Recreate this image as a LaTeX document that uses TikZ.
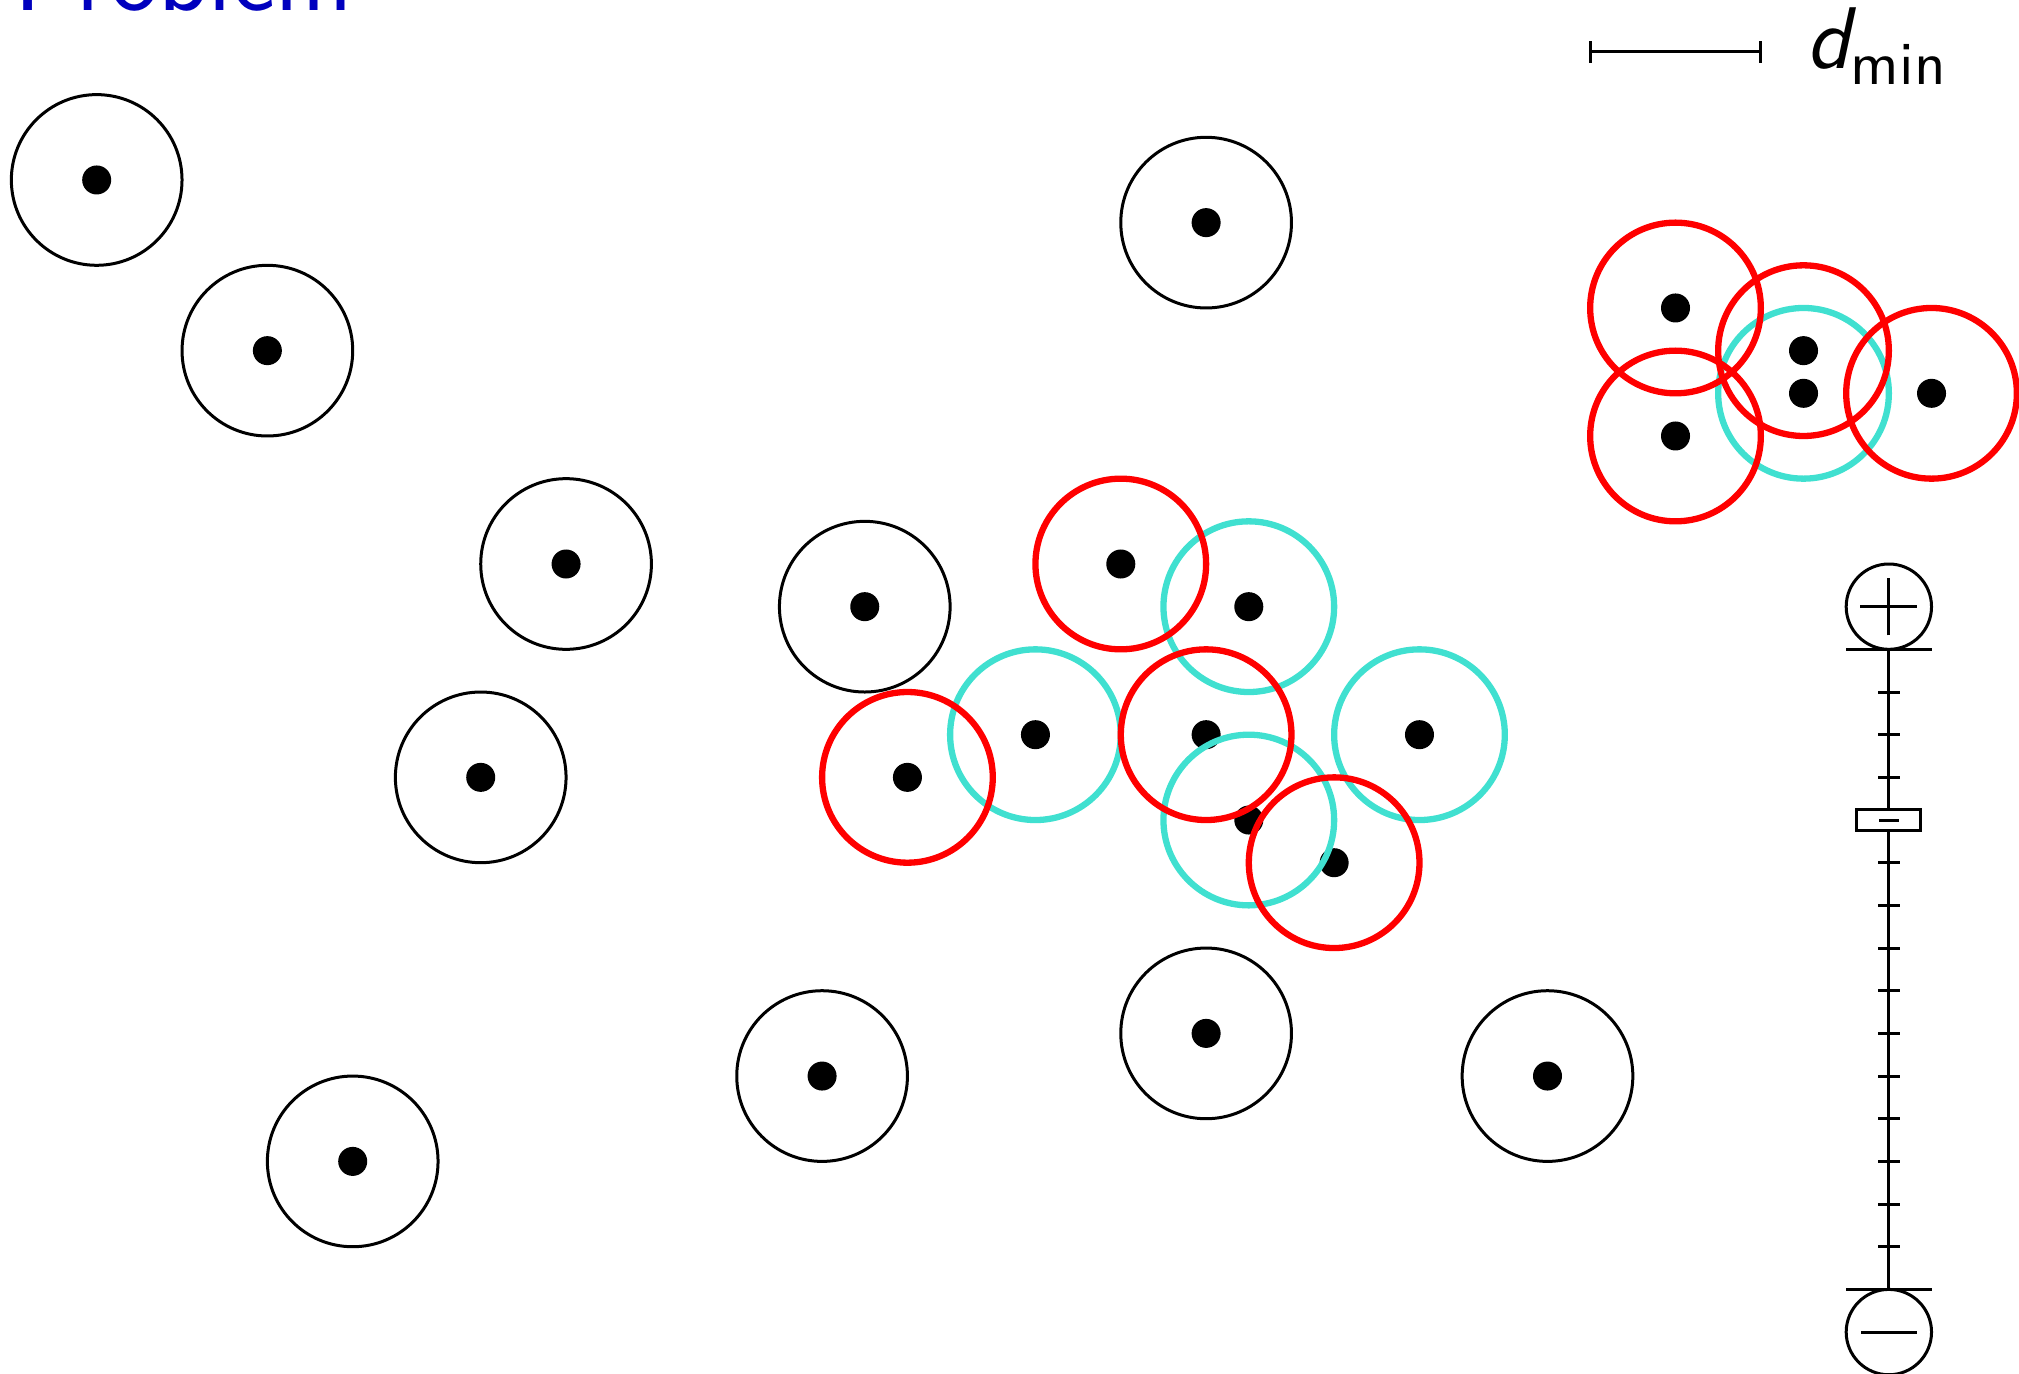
\documentclass[tikz,border=0pt]{standalone}
\definecolor{titleblue}{RGB}{0,0,190}
\definecolor{turq}{RGB}{64,224,208}
\begin{document}
\begin{tikzpicture}[x=0.25cm,y=-0.25cm,
  blackring/.style={draw=black,line width=0.5pt},
  redring/.style={draw=red,line width=1.05pt},
  cyanring/.style={draw=turq,line width=1.05pt},
  dotfill/.style={fill=black},
  sliderline/.style={draw=black,line width=0.5pt}]
\useasboundingbox (-2.266,-4.218) rectangle (45.05,27.96);
% title
\node[anchor=base west,inner sep=0pt,text=titleblue,font=\fontsize{17.28}{20}\selectfont\sffamily] (title) at (-1.95,-3.98) {Problem};
% points
\foreach \n/\x/\y in {b1/0/0,b2/4/4,b3/26/1,b4/11/9,b5/18/10,b6/9/14,b7/17/21,b8/26/20,b9/34/21,b10/6/23,
  r1/24/9,r2/19/14,r3/26/13,r4/29/16,r5/37/3,r6/40/4,r7/37/6,r8/43/5,
  c1/27/10,c2/22/13,c3/27/15,c4/31/13,c5/40/5}
  \coordinate (\n) at (\x,\y);
\foreach \n in {b1,b2,b3,b4,b5,b6,b7,b8,b9,b10,r1,r2,r3,r4,r5,r6,r7,r8,c1,c2,c3,c4,c5}
  \fill[dotfill] (\n) circle[radius=0.34];
\foreach \n in {b1,b2,b3,b4,b5,b6,b7,b8,b9,b10}
  \path[blackring] (\n) circle[radius=2];
\foreach \n in {c1,c2,c3,c4,c5}
  \path[cyanring] (\n) circle[radius=2];
\foreach \n in {r1,r2,r3,r4,r5,r6,r7,r8}
  \path[redring] (\n) circle[radius=2];
% scale bar
\coordinate (sa) at (35,-3);
\coordinate (sb) at (39,-3);
\draw[sliderline] (sa) -- (sb);
\draw[sliderline] ([yshift=-0.0625cm]sa) -- ([yshift=0.0625cm]sa);
\draw[sliderline] ([yshift=-0.0625cm]sb) -- ([yshift=0.0625cm]sb);
\node[anchor=base west,inner sep=0pt] (dmin) at (40.05,-2.62) {{\fontsize{14.6}{17}\selectfont\sffamily\itshape d}\raisebox{-2.8pt}{\fontsize{10.2}{12}\selectfont\sffamily min}};
% slider
\coordinate (plusc) at (42,10);
\coordinate (minusc) at (42,27);
\coordinate (ltop) at (42,11);
\coordinate (lbot) at (42,26);
\draw[sliderline] (plusc) circle[radius=1];
\draw[sliderline] (minusc) circle[radius=1];
\draw[sliderline] ([xshift=-0.1675cm]plusc) -- ([xshift=0.1675cm]plusc);
\draw[sliderline] ([yshift=-0.1675cm]plusc) -- ([yshift=0.1675cm]plusc);
\draw[sliderline] ([xshift=-0.1625cm]minusc) -- ([xshift=0.1625cm]minusc);
\draw[sliderline] (ltop) -- (lbot);
\draw[sliderline] ([xshift=-0.25cm]ltop) -- ([xshift=0.25cm]ltop);
\draw[sliderline] ([xshift=-0.25cm]lbot) -- ([xshift=0.25cm]lbot);
\foreach \j in {12,13,14,16,17,18,19,20,21,22,23,24,25}
  \draw[sliderline] (41.75,\j) -- (42.25,\j);
\coordinate (knob) at (42,15);
\draw[sliderline,fill=white] (41.25,14.75) rectangle (42.75,15.25);
\draw[sliderline] ([xshift=-0.0575cm]knob) -- ([xshift=0.0575cm]knob);
\end{tikzpicture}
\end{document}
